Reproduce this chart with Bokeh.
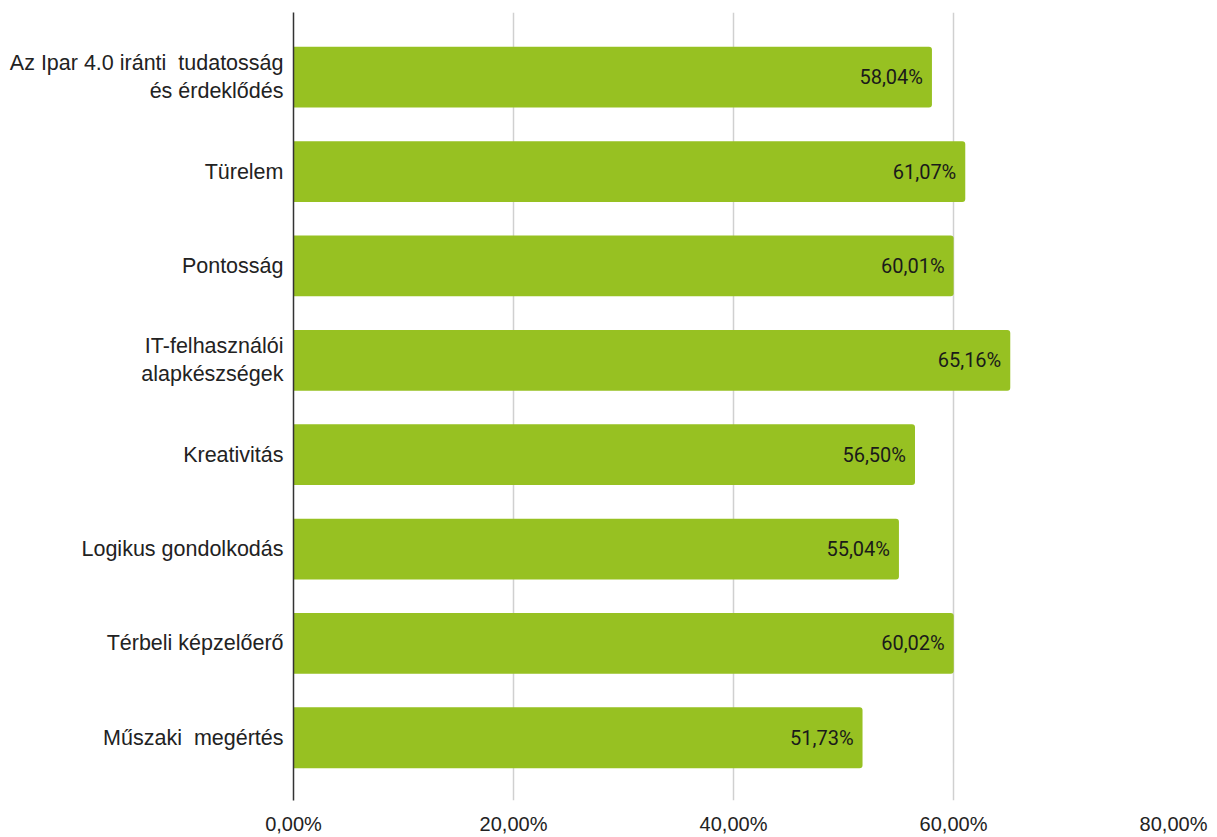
from bokeh.plotting import figure
from bokeh.models import Range1d, FixedTicker, ColumnDataSource
from bokeh.embed import file_html
from bokeh.resources import INLINE
from bokeh.core.properties import value

categories = [
    "Az Ipar 4.0 iránti\u00a0 tudatosság\nés érdeklődés",
    "Türelem",
    "Pontosság",
    "IT-felhasználói\nalapkészségek",
    "Kreativitás",
    "Logikus gondolkodás",
    "Térbeli képzelőerő",
    "Műszaki\u00a0 megértés",
]
values = [58.04, 61.07, 60.01, 65.16, 56.50, 55.04, 60.02, 51.73]
x_ticks = [0, 20, 40, 60, 80]
x_tick_labels = ["0,00%", "20,00%", "40,00%", "60,00%", "80,00%"]

LABEL_FONT = "Liberation Sans"
VALUE_FONT = "Roboto"
positions = list(range(len(categories)))
labels = [("%.2f%%" % v).replace(".", ",") for v in values]

src = ColumnDataSource(dict(y=positions, v=values, lab=labels))

p = figure(width=1217, height=837, output_backend="svg", toolbar_location=None,
           x_range=Range1d(0, 80), y_range=Range1d(len(categories) - 1 + 0.665, -0.686),
           min_border_left=293, min_border_right=44, min_border_top=12, min_border_bottom=0)
p.outline_line_color = None
p.background_fill_color = "white"
p.border_fill_color = "white"

p.hbar(y="y", right="v", left=0, height=0.644, source=src, fill_color="#97C122",
       line_color=None, border_radius=(0, 3, 3, 0))
p.text(x="v", y="y", text="lab", source=src, x_offset=-9, text_align="right",
       text_baseline="middle", text_font=value(VALUE_FONT), text_font_size="20px",
       text_color="#1a1a1a")

p.xgrid.ticker = FixedTicker(ticks=x_ticks)
p.xgrid.grid_line_color = "#d0d0d0"
p.xgrid.grid_line_width = 1.5
p.ygrid.grid_line_color = None

p.xaxis.ticker = FixedTicker(ticks=x_ticks)
p.xaxis.major_label_overrides = {t: l for t, l in zip(x_ticks, x_tick_labels)}
p.xaxis.axis_line_color = None
p.xaxis.major_tick_line_color = None
p.xaxis.minor_tick_line_color = None
p.xaxis.major_tick_out = 0
p.xaxis.major_tick_in = 0
p.xaxis.minor_tick_out = 0
p.xaxis.major_label_text_font = LABEL_FONT
p.xaxis.major_label_text_font_size = "20px"
p.xaxis.major_label_text_color = "#222222"
p.xaxis.major_label_standoff = 12
p.xaxis.major_label_text_line_height = 0.7

p.yaxis.ticker = FixedTicker(ticks=positions)
p.yaxis.major_label_overrides = {i: c for i, c in zip(positions, categories)}
p.yaxis.axis_line_color = "#333333"
p.yaxis.axis_line_width = 1.5
p.yaxis.major_tick_line_color = None
p.yaxis.minor_tick_line_color = None
p.yaxis.major_tick_out = 0
p.yaxis.major_tick_in = 0
p.yaxis.major_label_text_font = LABEL_FONT
p.yaxis.major_label_text_font_size = "21.5px"
p.yaxis.major_label_text_color = "#222222"
p.yaxis.major_label_standoff = 10
p.yaxis.major_label_text_line_height = 1.17

open("out.html", "w").write(file_html(p, INLINE))
